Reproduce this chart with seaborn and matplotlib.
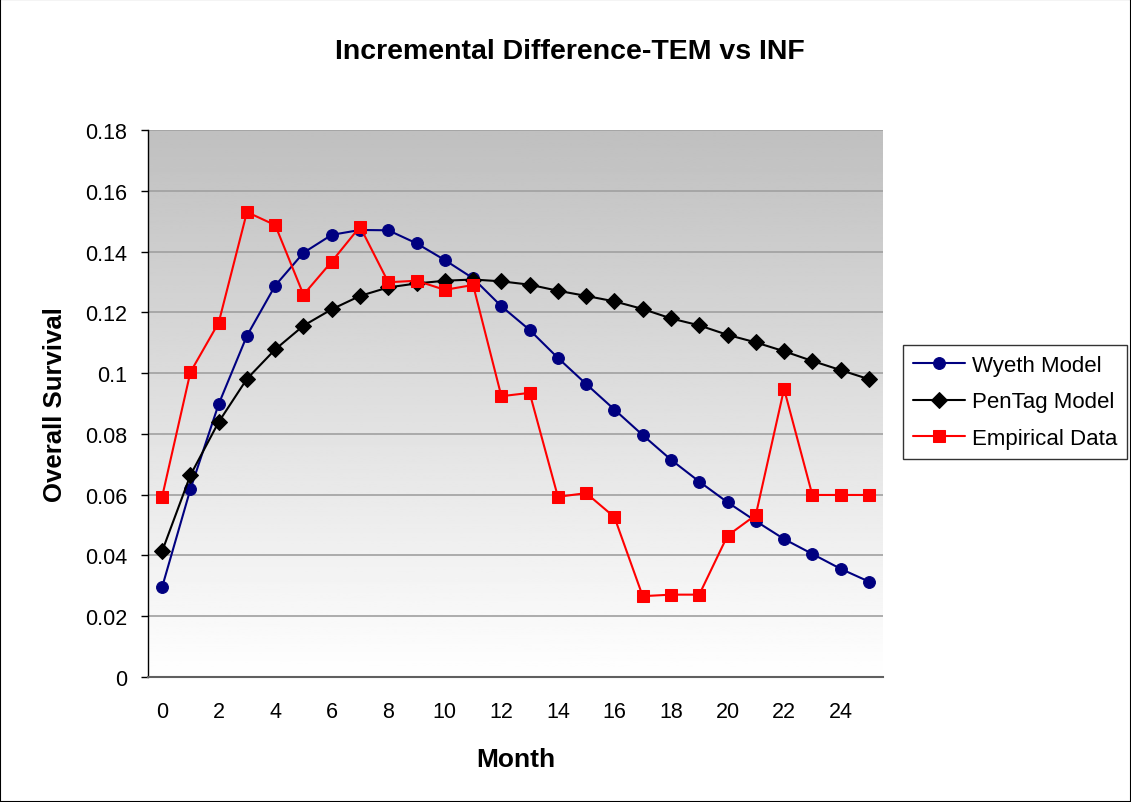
import numpy as np
import pandas as pd
import matplotlib
matplotlib.use("Agg")
import matplotlib.pyplot as plt
from matplotlib.patches import Rectangle
import seaborn as sns

months = list(range(26))
wyeth = [0.0296, 0.0618, 0.0898, 0.1123, 0.1288, 0.1396, 0.1455, 0.1471, 0.1470, 0.1427,
         0.1372, 0.1312, 0.1220, 0.1142, 0.1050, 0.0964, 0.0880, 0.0796, 0.0715, 0.0643,
         0.0575, 0.0513, 0.0454, 0.0405, 0.0356, 0.0314]
pentag = [0.0414, 0.0664, 0.0839, 0.0981, 0.1078, 0.1156, 0.1210, 0.1254, 0.1282, 0.1295,
          0.1304, 0.1308, 0.1302, 0.1291, 0.1271, 0.1254, 0.1236, 0.1211, 0.1180, 0.1157,
          0.1126, 0.1101, 0.1072, 0.1040, 0.1010, 0.0980]
empirical = [0.0593, 0.1003, 0.1166, 0.1530, 0.1487, 0.1258, 0.1367, 0.1482, 0.1299, 0.1304,
             0.1274, 0.1290, 0.0924, 0.0935, 0.0593, 0.0605, 0.0526, 0.0266, 0.0271, 0.0271,
             0.0465, 0.0533, 0.0948, 0.0599, 0.0599, 0.0599]
series_names = ["Wyeth Model", "PenTag Model", "Empirical Data"]
y_ticks = [0, 0.02, 0.04, 0.06, 0.08, 0.1, 0.12, 0.14, 0.16, 0.18]
x_tick_labels = list(range(0, 25, 2))

sns.set_style("white")
plt.rcParams['font.family'] = ['Liberation Sans', 'DejaVu Sans']
plt.rcParams['text.color'] = 'black'
plt.rcParams['xtick.color'] = 'black'
plt.rcParams['ytick.color'] = 'black'
plt.rcParams['axes.labelcolor'] = 'black'

fig = plt.figure(figsize=(11.31, 8.03), dpi=100)
ax = fig.add_axes([148 / 1131, 1 - 678 / 803, 735 / 1131, 547 / 803])

# gradient background like Excel plot area (grey at top, white at bottom)
grad = np.linspace(0.75, 1.0, 256).reshape(-1, 1)
ax.imshow(grad, cmap="gray", vmin=0, vmax=1, aspect="auto", origin="upper",
          extent=(-0.5, 25.5, 0, 0.18), zorder=0)

df = pd.DataFrame({"Month": months, series_names[0]: wyeth,
                   series_names[1]: pentag, series_names[2]: empirical})
styles = [("#000080", "o", 8.5), ("black", "D", 8), ("#ff0000", "s", 8)]
for name, (col, mk, ms) in zip(series_names, styles):
    sns.lineplot(data=df, x="Month", y=name, ax=ax, color=col, marker=mk,
                 markersize=ms, markeredgecolor=col, linewidth=1.5, label=name,
                 zorder=3)

ax.set_xlim(-0.5, 25.5)
ax.set_ylim(0, 0.18)
ax.set_yticks(y_ticks)
ax.set_yticklabels([f"{v:g}" for v in y_ticks])
ax.set_xticks(x_tick_labels)
ax.set_xticklabels([str(v) for v in x_tick_labels])
ax.set_xticks(np.arange(-0.5, 26, 1), minor=True)
ax.tick_params(axis="x", which="major", length=0, pad=17, labelsize=15.5)
ax.tick_params(axis="x", which="minor", length=5, width=1, color="black", direction="out")
ax.tick_params(axis="y", length=5, width=1, color="black", direction="out",
               left=True, pad=10, labelsize=15.5)
ax.yaxis.grid(True, color="#a0a0a0", linewidth=1.2, zorder=1)
ax.set_axisbelow(True)
for s in ["top", "right"]:
    ax.spines[s].set_visible(False)
ax.spines["left"].set_color("black")
ax.spines["bottom"].set_color("#606060")
ax.spines["left"].set_linewidth(1)
ax.spines["bottom"].set_linewidth(1.5)

ax.set_xlabel("Month", fontsize=19, fontweight="bold", labelpad=18)
ax.set_ylabel("Overall Survival", fontsize=18.5, fontweight="bold", labelpad=13)
fig.text(0.504, 1 - 52 / 803, "Incremental Difference-TEM vs INF", ha="center", va="center",
         fontsize=20.5, fontweight="bold")

ax.get_legend().remove()
handles, labels = ax.get_legend_handles_labels()
leg = fig.legend(handles, labels, loc="center left", bbox_to_anchor=(903 / 1131, 1 - 403 / 803),
                 fontsize=16, frameon=True, fancybox=False, edgecolor="black",
                 handlelength=2.35, borderpad=0.45, labelspacing=0.7, handletextpad=0.3,
                 borderaxespad=0)
leg.get_frame().set_linewidth(1)

fig.patches.append(Rectangle((0, 0), 1, 1, transform=fig.transFigure, fill=False,
                             edgecolor="black", linewidth=1.5))
fig.savefig("out.png", dpi=100)
